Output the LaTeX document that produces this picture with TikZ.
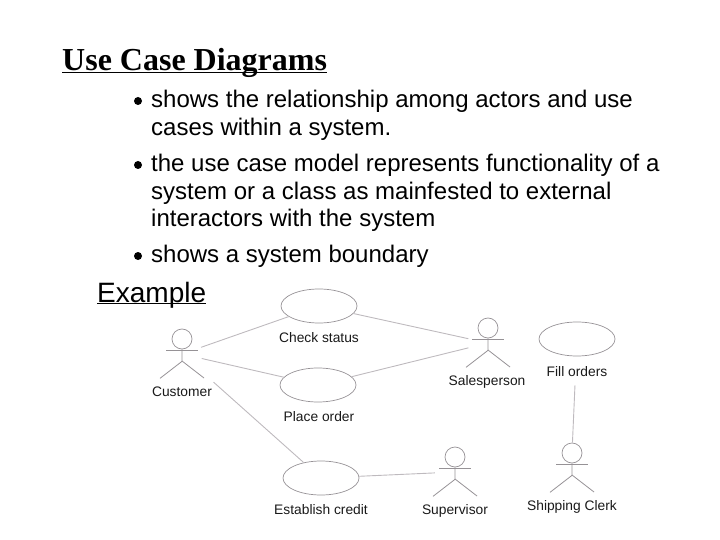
\documentclass[tikz,border=0pt]{standalone}
\usepackage{fontspec}
\setmainfont{Liberation Sans}
\newfontfamily\titlefont{Liberation Serif}
\usetikzlibrary{shapes.geometric}
\definecolor{linegray}{RGB}{190,186,190}
\definecolor{figgray}{RGB}{150,146,150}
\tikzset{
	usecase/.style={draw=figgray,line width=.7pt,ellipse,minimum width=76pt,minimum height=34pt,inner sep=0pt},
	actor/.style={circle,minimum size=40pt,inner sep=0pt},
	head/.style={draw=figgray,line width=.7pt,circle,minimum size=20pt,inner sep=0pt},
	limb/.style={draw=figgray,line width=.8pt},
	assoc/.style={draw=linegray,line width=.9pt},
	lbl/.style={font=\fontsize{13.8}{16}\selectfont,text=black!90,inner sep=0pt},
	body/.style={font=\fontsize{24}{27.5}\selectfont,align=left,anchor=north west,inner sep=0pt},
	dot/.style={circle,fill=black,minimum size=8pt,inner sep=0pt}
}
% #1 name, #2 x, #3 y of the head
\newcommand{\stickman}[3]{
	\node[head] (#1head) at (#2,#3) {};
	\node[actor] (#1) at (#2,#3+15) {};
	\draw[limb] (#1head.south)--++(0,12)--++(-22,17);
	\draw[limb] (#2,#3+22)--++(22,17);
	\draw[limb] (#2-16,#3+11)--(#2+16,#3+11);
}
\begin{document}
\begin{tikzpicture}[x=1pt,y=-1pt,line join=round]
	\useasboundingbox (0,0) rectangle (720,540);
	\node[anchor=base west,inner sep=0pt,font=\titlefont\bfseries\fontsize{32}{36}\selectfont] (title) at (62,71) {\underline{\smash{Use Case Diagrams}}};
	% bullets
	\node[dot] (dota) at (138,101) {};
	\node[dot] (dotb) at (138,165) {};
	\node[dot] (dotc) at (138,256) {};
	\node[body] (texta) at (151,90) {shows the relationship among actors and use\\cases within a system.};
	\node[body] (textb) at (151,154) {the use case model represents functionality of a\\system or a class as mainfested to external\\interactors with the system};
	\node[body] (textc) at (151,245) {shows a system boundary};
	\node[anchor=base west,inner sep=0pt,font=\fontsize{28}{32}\selectfont] (example) at (97,302) {\underline{\smash{Example}}};
	% use cases
	\node[usecase] (check) at (319,306) {};
	\node[usecase] (place) at (318,385) {};
	\node[usecase] (credit) at (321,478) {};
	\node[usecase] (fill) at (577,339) {};
	\node[lbl] (checklbl) at (319,338) {Check status};
	\node[lbl] (placelbl) at (319,417) {Place order};
	\node[lbl] (creditlbl) at (321,510) {Establish credit};
	\node[lbl] (filllbl) at (577,372) {Fill orders};
	% actors
	\stickman{customer}{182}{339}
	\stickman{sales}{488}{328}
	\stickman{super}{455}{457}
	\stickman{clerk}{572}{453}
	\node[lbl] (customerlbl) at (182,392) {Customer};
	\node[lbl] (saleslbl) at (487,382) {Salesperson};
	\node[lbl] (superlbl) at (455,511) {Supervisor};
	\node[lbl] (clerklbl) at (572,507) {Shipping Clerk};
	% associations
	\draw[assoc] (customer)--(check);
	\draw[assoc] (customer)--(place);
	\draw[assoc,shorten <=22pt] (customer)--(credit);
	\draw[assoc] (check)--(sales);
	\draw[assoc] (place)--(sales);
	\draw[assoc] (credit)--(super);
	\draw[assoc,shorten <=29pt] (fill)--(clerkhead);
\end{tikzpicture}
\end{document}
